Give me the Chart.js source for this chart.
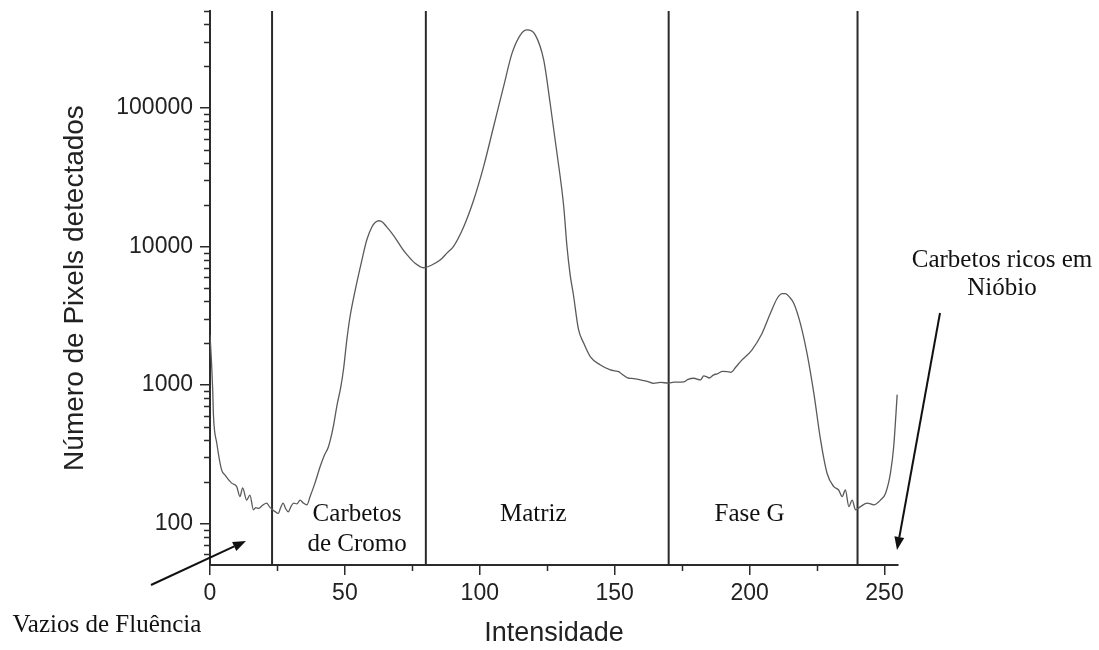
<!DOCTYPE html>
<html>
<head>
<meta charset="utf-8">
<script src="https://cdn.jsdelivr.net/npm/chart.js@4.4.1/dist/chart.umd.min.js"></script>
<style>
  html, body { margin: 0; padding: 0; background: #fff; }
</style>
</head>
<body>
<canvas id="histChart" width="1099" height="650"></canvas>
<script>
"use strict";
// histogram (intensity -> pixel count)
const intensity = [
    0, 0.6, 1, 1.3, 2.5, 4.3, 5.6, 7, 8, 9.9, 11.1, 12.1, 13.6, 14.8, 16.1, 17, 17.9, 19.5, 21, 22,
    22.9, 24, 25.3, 26.2, 27.1, 28, 29, 30, 31, 32.2, 33.4, 34.6, 35.9, 37.1, 38.9, 40.8, 42.4, 43.9, 45.7, 47,
    48.5, 49.5, 50.7, 51.9, 53.8, 56.3, 58.1, 60, 61.3, 62.7, 64, 65.5, 67.3, 69.2, 71, 73, 76, 79.1, 82.2, 85.3,
    88, 90.2, 94, 97.7, 101.4, 105.1, 108.8, 111.9, 115, 117.5, 120.6, 123.7, 126.1, 128.6, 131.1, 132.3, 133.5, 134.6, 136.6, 138.5,
    141, 144.7, 148.4, 150, 151.5, 152.5, 155.2, 157, 159.5, 162, 164.4, 167, 170, 172, 175.6, 177, 179.3, 181.8, 183, 184.2,
    185, 186.7, 188, 190, 191.7, 193, 195, 196.6, 200.9, 204.6, 207.7, 210.2, 212, 213.3, 214.8, 216.4, 218.8, 221.3, 223.8, 226.3,
    228.7, 231.2, 233, 234.3, 235.5, 236.8, 238, 239.3, 241.1, 243.6, 246, 248.5, 250.4, 252.2, 253.4, 254.7
];
const pixelCount = [
    2300, 1400, 920, 590, 380, 243, 223, 205, 195, 184, 156, 180, 147, 160, 125, 130, 128, 135, 140, 132,
    127, 122, 118, 130, 140, 128, 121, 132, 140, 138, 147, 140, 136, 156, 195, 256, 310, 357, 498, 700,
    970, 1300, 2100, 3100, 4800, 7950, 11100, 13800, 14900, 15300, 14900, 13800, 12500, 11100, 9800, 8700, 7540, 7000, 7330, 7950,
    9000, 9950, 13800, 21500, 37600, 73000, 142000, 246000, 335000, 365000, 335000, 221000, 107000, 47000, 19400, 10000, 6200, 4600, 2500, 2000,
    1590, 1390, 1280, 1260, 1245, 1200, 1115, 1110, 1085, 1060, 1025, 1040, 1030, 1045, 1050, 1090, 1115, 1085, 1160, 1140,
    1120, 1180, 1200, 1250, 1245, 1230, 1350, 1470, 1790, 2350, 3280, 4200, 4550, 4560, 4300, 3870, 2780, 1680, 870, 400,
    230, 184, 174, 156, 174, 132, 147, 125, 132, 140, 136, 147, 165, 230, 357, 850
];
// phase boundaries (intensity)
const phaseLimits = [23, 80, 170, 240];
const regionNames = ['Carbetos\nde Cromo', 'Matriz', 'Fase G'];
const sideNotes = ['Vazios de Fluência', 'Carbetos ricos em\nNióbio'];

const xMajorTicks = [0, 50, 100, 150, 200, 250];
const xMinorTicks = [25, 75, 125, 175, 225];
const yMajorTicks = [100, 1000, 10000, 100000];
const yMinorTicks = [60, 70, 80, 90, 200, 300, 400, 500, 600, 700, 800, 900,
    2000, 3000, 4000, 5000, 6000, 7000, 8000, 9000,
    20000, 30000, 40000, 50000, 60000, 70000, 80000, 90000,
    200000, 300000, 400000, 500000];

const axisColor = '#2b2b2b';
const sansFont = '"Liberation Sans", Arial, sans-serif';
const serifFont = '"Liberation Serif", "Times New Roman", serif';

function drawArrow(ctx, x1, y1, x2, y2) {
    const ang = Math.atan2(y2 - y1, x2 - x1);
    const len = 13, half = 5;
    const bx = x2 - len * Math.cos(ang), by = y2 - len * Math.sin(ang);
    ctx.beginPath();
    ctx.moveTo(x1, y1);
    ctx.lineTo(bx, by);
    ctx.stroke();
    ctx.beginPath();
    ctx.moveTo(x2, y2);
    ctx.lineTo(bx + half * Math.sin(ang), by - half * Math.cos(ang));
    ctx.lineTo(bx - half * Math.sin(ang), by + half * Math.cos(ang));
    ctx.closePath();
    ctx.fill();
}

function drawLines(ctx, text, cx, baseY, lineGap) {
    text.split('\n').forEach((line, i) => ctx.fillText(line, cx, baseY + i * lineGap));
}

const overlayPlugin = {
    id: 'overlay',
    afterDraw(chart) {
        const { ctx, chartArea, scales } = chart;
        const xs = scales.x, ys = scales.y;
        ctx.save();
        // minor ticks
        ctx.strokeStyle = axisColor;
        ctx.lineWidth = 1.5;
        ctx.beginPath();
        yMinorTicks.forEach(v => {
            const py = Math.round(ys.getPixelForValue(v)) + 0.5;
            ctx.moveTo(chartArea.left - 6, py);
            ctx.lineTo(chartArea.left, py);
        });
        xMinorTicks.forEach(v => {
            const px = Math.round(xs.getPixelForValue(v)) + 0.5;
            ctx.moveTo(px, chartArea.bottom);
            ctx.lineTo(px, chartArea.bottom + 6);
        });
        ctx.stroke();

        // region names
        ctx.fillStyle = '#111';
        ctx.font = '25px ' + serifFont;
        ctx.textAlign = 'center';
        ctx.textBaseline = 'alphabetic';
        const regionCenters = [54.5, 119.8, 200];
        regionNames.forEach((name, i) => {
            drawLines(ctx, name, xs.getPixelForValue(regionCenters[i]), chartArea.bottom - 44, 30);
        });

        // notes outside the plot
        drawLines(ctx, sideNotes[0], 107, 632, 28);
        drawLines(ctx, sideNotes[1], 1002, 267, 28);

        ctx.strokeStyle = '#111';
        ctx.lineWidth = 2;
        drawArrow(ctx, 151, 585, 246, 541);
        drawArrow(ctx, 940, 313, 897, 550);
        ctx.restore();
    }
};

const datasets = [{
    data: intensity.map((v, i) => ({ x: v, y: pixelCount[i] })),
    borderColor: '#5a5a5a',
    borderWidth: 1.3,
    pointRadius: 0,
    cubicInterpolationMode: 'monotone',
    fill: false
}];
phaseLimits.forEach(lim => {
    datasets.push({
        data: [{ x: lim, y: 50 }, { x: lim, y: 500000 }],
        borderColor: axisColor,
        borderWidth: 2,
        pointRadius: 0,
        fill: false
    });
});

const context = document.getElementById('histChart');
const histChart = new Chart(context, {
    type: 'line',
    data: { datasets: datasets },
    options: {
        responsive: false,
        devicePixelRatio: 1,
        animation: false,
        layout: { padding: { left: 0, right: 201, top: 11, bottom: 0 } },
        plugins: { legend: { display: false }, tooltip: { enabled: false } },
        scales: {
            x: {
                type: 'linear',
                min: 0,
                max: 255,
                afterBuildTicks: s => { s.ticks = xMajorTicks.map(v => ({ value: v })); },
                afterFit: s => { s.height = 85; s.paddingLeft = 0; s.paddingRight = 0; },
                grid: { drawOnChartArea: false, color: axisColor, lineWidth: 1.5, tickLength: 10 },
                border: { display: true, color: axisColor, width: 2 },
                ticks: { color: '#222', padding: 5, maxRotation: 0, font: { family: sansFont, size: 23 } },
                title: { display: true, text: 'Intensidade', color: '#222', padding: 0, font: { family: sansFont, size: 27 } }
            },
            y: {
                type: 'logarithmic',
                min: 50,
                max: 500000,
                afterBuildTicks: s => { s.ticks = yMajorTicks.map(v => ({ value: v })); },
                afterFit: s => { s.width = 210; s.paddingTop = 0; s.paddingBottom = 0; },
                grid: { drawOnChartArea: false, color: axisColor, lineWidth: 1.5, tickLength: 10 },
                border: { display: true, color: axisColor, width: 2 },
                ticks: { color: '#222', padding: 7, font: { family: sansFont, size: 23 }, callback: v => String(v) },
                title: { display: true, text: 'Número de Pixels detectados', color: '#222', padding: { top: 58, bottom: 0 }, font: { family: sansFont, size: 28 } }
            }
        }
    },
    plugins: [overlayPlugin]
});
</script>
</body>
</html>
